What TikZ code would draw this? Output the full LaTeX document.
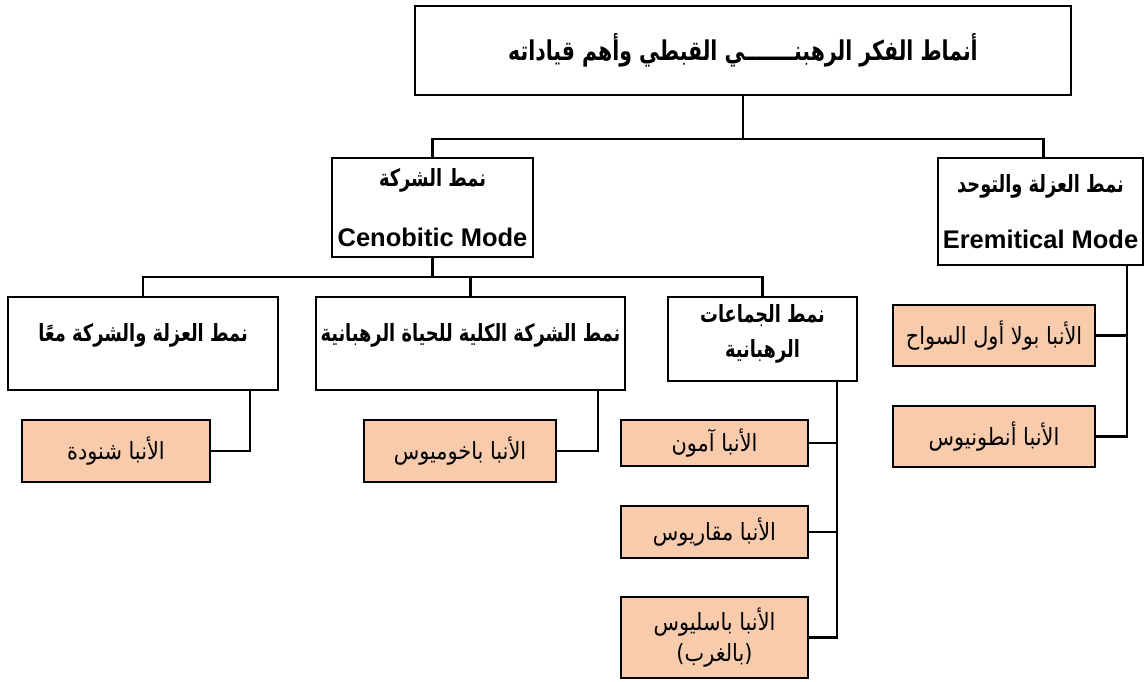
\documentclass[tikz,border=0pt]{standalone}
\usepackage{fontspec}
\setmainfont{Liberation Sans}
\newfontfamily\arabicfont[Script=Arabic,FakeStretch=0.88]{DejaVu Sans}
\newfontfamily\arabicbold[Script=Arabic,FakeStretch=0.75]{DejaVu Sans Bold}
\TeXXeTstate=1
\newcommand{\ar}[1]{{\arabicfont\beginR #1\endR}}
\newcommand{\arb}[1]{{\arabicbold\beginR #1\endR}}
\newcommand{\en}[1]{{\bfseries\fontsize{14.5}{16}\selectfont #1}}
\definecolor{peach}{RGB}{248,203,173}
\begin{document}
\begin{tikzpicture}
[x=.02cm, y=-.02cm,
 nodes={draw=black, line width=1.5pt, inner sep=2pt, align=center},
 hdr/.style={font=\fontsize{13.5}{16}\selectfont},
 leaf/.style={fill=peach, font=\fontsize{13.5}{18}\selectfont, minimum width=#1},
 line width=1.3pt]
\useasboundingbox (0,0) rectangle (1148,682);
\node (title) [hdr, font=\fontsize{15.5}{18}\selectfont, minimum width=13.12cm, minimum height=1.78cm] at (743,50.5) {\arb{أنماط الفكر الرهبنـــــــي القبطي وأهم قياداته}};
\node (ceno) [hdr, minimum width=4.02cm, minimum height=1.98cm] at (432.5,207.5) {\arb{نمط الشركة}\\[18pt]\en{Cenobitic Mode}};
\node (erem) [hdr, minimum width=4.1cm, minimum height=2.14cm] at (1040.5,211.5) {\arb{نمط العزلة والتوحد}\\[16pt]\en{Eremitical Mode}};
\node (both) [hdr, text depth=12pt, minimum width=5.4cm, minimum height=1.86cm] at (143,343.5) {\arb{نمط العزلة والشركة معًا}};
\node (koinon) [hdr, text depth=12pt, minimum width=6.18cm, minimum height=1.86cm] at (470.5,343.5) {\arb{نمط الشركة الكلية للحياة الرهبانية}};
\node (groups) [hdr, text depth=9pt, minimum width=3.78cm, minimum height=1.68cm] at (762.5,339) {\arb{نمط الجماعات}\\[4pt]\arb{الرهبانية}};

\node (shenouda) [leaf=3.76cm, minimum height=1.24cm] at (116,451) {\ar{الأنبا شنودة}};
\node (pachom) [leaf=3.84cm, minimum height=1.24cm] at (460,451) {\ar{الأنبا باخوميوس}};
\node (amoun) [leaf=3.74cm, minimum height=.92cm] at (714.5,443) {\ar{الأنبا آمون}};
\node (macarius) [leaf=3.74cm, minimum height=1.04cm] at (714.5,532) {\ar{الأنبا مقاريوس}};
\node (basil) [leaf=3.74cm, minimum height=1.62cm] at (714.5,637.5) {\ar{الأنبا باسليوس}\\\ar{(بالغرب)}};
\node (pola) [leaf=4.04cm, minimum height=1.22cm] at (994,335.5) {\ar{الأنبا بولا أول السواح}};
\node (anton) [leaf=4.04cm, minimum height=1.22cm] at (994,436.5) {\ar{الأنبا أنطونيوس}};

\coordinate (top) at (743,139);
\coordinate (mid) at (432.5,277);
\draw (title) -- (top);
\draw (ceno.north) |- (top) -| ([xshift=.06cm]erem.north);
\draw (ceno) -- (mid);
\draw (both.north) |- (mid) -| (groups.north);
\draw (koinon.north) -- (koinon.north |- mid);
\draw ([xshift=-.58cm]both.south east) |- (shenouda.east);
\draw ([xshift=-.56cm]koinon.south east) |- (pachom.east);
\draw ([xshift=-.42cm]groups.south east) |- (basil.east);
\draw (amoun.east) -| ([xshift=-.42cm]groups.south east);
\draw (macarius.east) -| ([xshift=-.42cm]groups.south east);
\draw ([xshift=-.34cm]erem.south east) |- (anton.east);
\draw (pola.east) -| ([xshift=-.34cm]erem.south east);
\end{tikzpicture}
\end{document}
